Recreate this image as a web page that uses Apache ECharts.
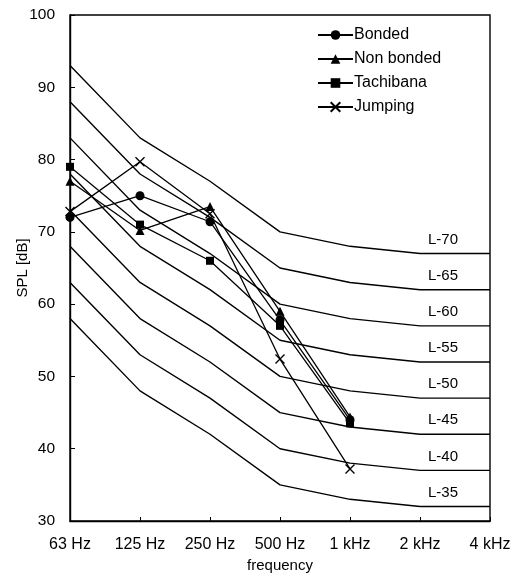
<!DOCTYPE html>
<html>
<head>
<meta charset="utf-8">
<script src="https://cdn.jsdelivr.net/npm/echarts@6/dist/echarts.min.js"></script>
<style>
  html, body { margin: 0; padding: 0; background: #fff; }
  #chart { width: 522px; height: 576px; }
</style>
</head>
<body>
<div id="chart"></div>
<script>
// octave bands
const freqs = ['63 Hz', '125 Hz', '250 Hz', '500 Hz', '1 kHz', '2 kHz', '4 kHz'];

// L-curves (reference lines)
const L35 = [58, 48, 42, 35, 33, 32, 32];
const L40 = [63, 53, 47, 40, 38, 37, 37];
const L45 = [68, 58, 52, 45, 43, 42, 42];
const L50 = [73, 63, 57, 50, 48, 47, 47];
const L55 = [78, 68, 62, 55, 53, 52, 52];
const L60 = [83, 73, 67, 60, 58, 57, 57];
const L65 = [88, 78, 72, 65, 63, 62, 62];
const L70 = [93, 83, 77, 70, 68, 67, 67];

// measured floor impact SPL, 63 Hz .. 1 kHz
const bonded = [72, 75, 71.4, 57.8, 44];
const nonBonded = [77, 70.2, 73.5, 59, 44.4];
const tachibana = [79, 71, 66, 57, 43.5];
const jumping = [72.8, 79.7, 72.5, 52.4, 37.2];

const FONT = 'Liberation Sans, Arial, sans-serif';

function lCurve(name, vals) {
  return {
    name: name,
    type: 'line',
    data: vals,
    symbol: 'none',
    silent: true,
    lineStyle: { color: '#000', width: 1.4 },
    endLabel: {
      show: true,
      formatter: name,
      offset: [-70, -14],
      color: '#000',
      fontSize: 15,
      fontFamily: FONT
    },
    z: 1
  };
}

function dataSeries(name, vals, symbol, size) {
  return {
    name: name,
    type: 'line',
    data: vals,
    symbol: symbol,
    symbolSize: size,
    showAllSymbol: true,
    lineStyle: { color: '#000', width: 1.3 },
    itemStyle: { color: '#000', borderColor: '#000', borderWidth: symbol.indexOf('path') === 0 ? 1.4 : 0 },
    z: 3
  };
}

const chart = echarts.init(document.getElementById('chart'), null, { renderer: 'canvas' });

const option = {
  animation: false,
  backgroundColor: '#fff',
  grid: {
    left: 70, right: 32, top: 15, bottom: 55,
    outerBoundsMode: 'none',
    show: true, borderColor: '#000', borderWidth: 1.4
  },
  legend: {
    data: ['Bonded', 'Non bonded', 'Tachibana', 'Jumping'],
    orient: 'vertical',
    left: 312,
    top: 22,
    itemWidth: 35,
    itemHeight: 12,
    itemGap: 8,
    textStyle: { color: '#000', fontSize: 16, fontFamily: FONT, padding: [0, 0, 0, -4] }
  },
  xAxis: {
    type: 'category',
    data: freqs,
    boundaryGap: false,
    name: 'frequency',
    nameLocation: 'middle',
    nameGap: 37,
    nameMoveOverlap: false,
    nameTextStyle: { color: '#000', fontSize: 15, fontFamily: FONT },
    axisLine: { lineStyle: { color: '#000', width: 1.4 } },
    axisTick: { inside: true, length: 4, lineStyle: { color: '#000' } },
    axisLabel: { color: '#000', fontSize: 16, fontFamily: FONT, margin: 16, interval: 0 },
    splitLine: { show: false }
  },
  yAxis: {
    type: 'value',
    min: 30,
    max: 100,
    interval: 10,
    name: 'SPL [dB]',
    nameLocation: 'middle',
    nameGap: 40,
    nameMoveOverlap: false,
    nameTextStyle: { color: '#000', fontSize: 15, fontFamily: FONT },
    axisLine: { show: true, lineStyle: { color: '#000', width: 1.4 } },
    axisTick: { show: true, inside: true, length: 5, lineStyle: { color: '#000' } },
    axisLabel: { color: '#000', fontSize: 15.5, fontFamily: FONT, margin: 15 },
    splitLine: { show: false }
  },
  series: [
    lCurve('L-35', L35),
    lCurve('L-40', L40),
    lCurve('L-45', L45),
    lCurve('L-50', L50),
    lCurve('L-55', L55),
    lCurve('L-60', L60),
    lCurve('L-65', L65),
    lCurve('L-70', L70),
    dataSeries('Bonded', bonded, 'circle', 9),
    dataSeries('Non bonded', nonBonded, 'triangle', 9),
    dataSeries('Tachibana', tachibana, 'rect', 8),
    dataSeries('Jumping', jumping, 'path://M0,0L10,10M10,0L0,10', 9)
  ]
};

chart.setOption(option);
</script>
</body>
</html>
